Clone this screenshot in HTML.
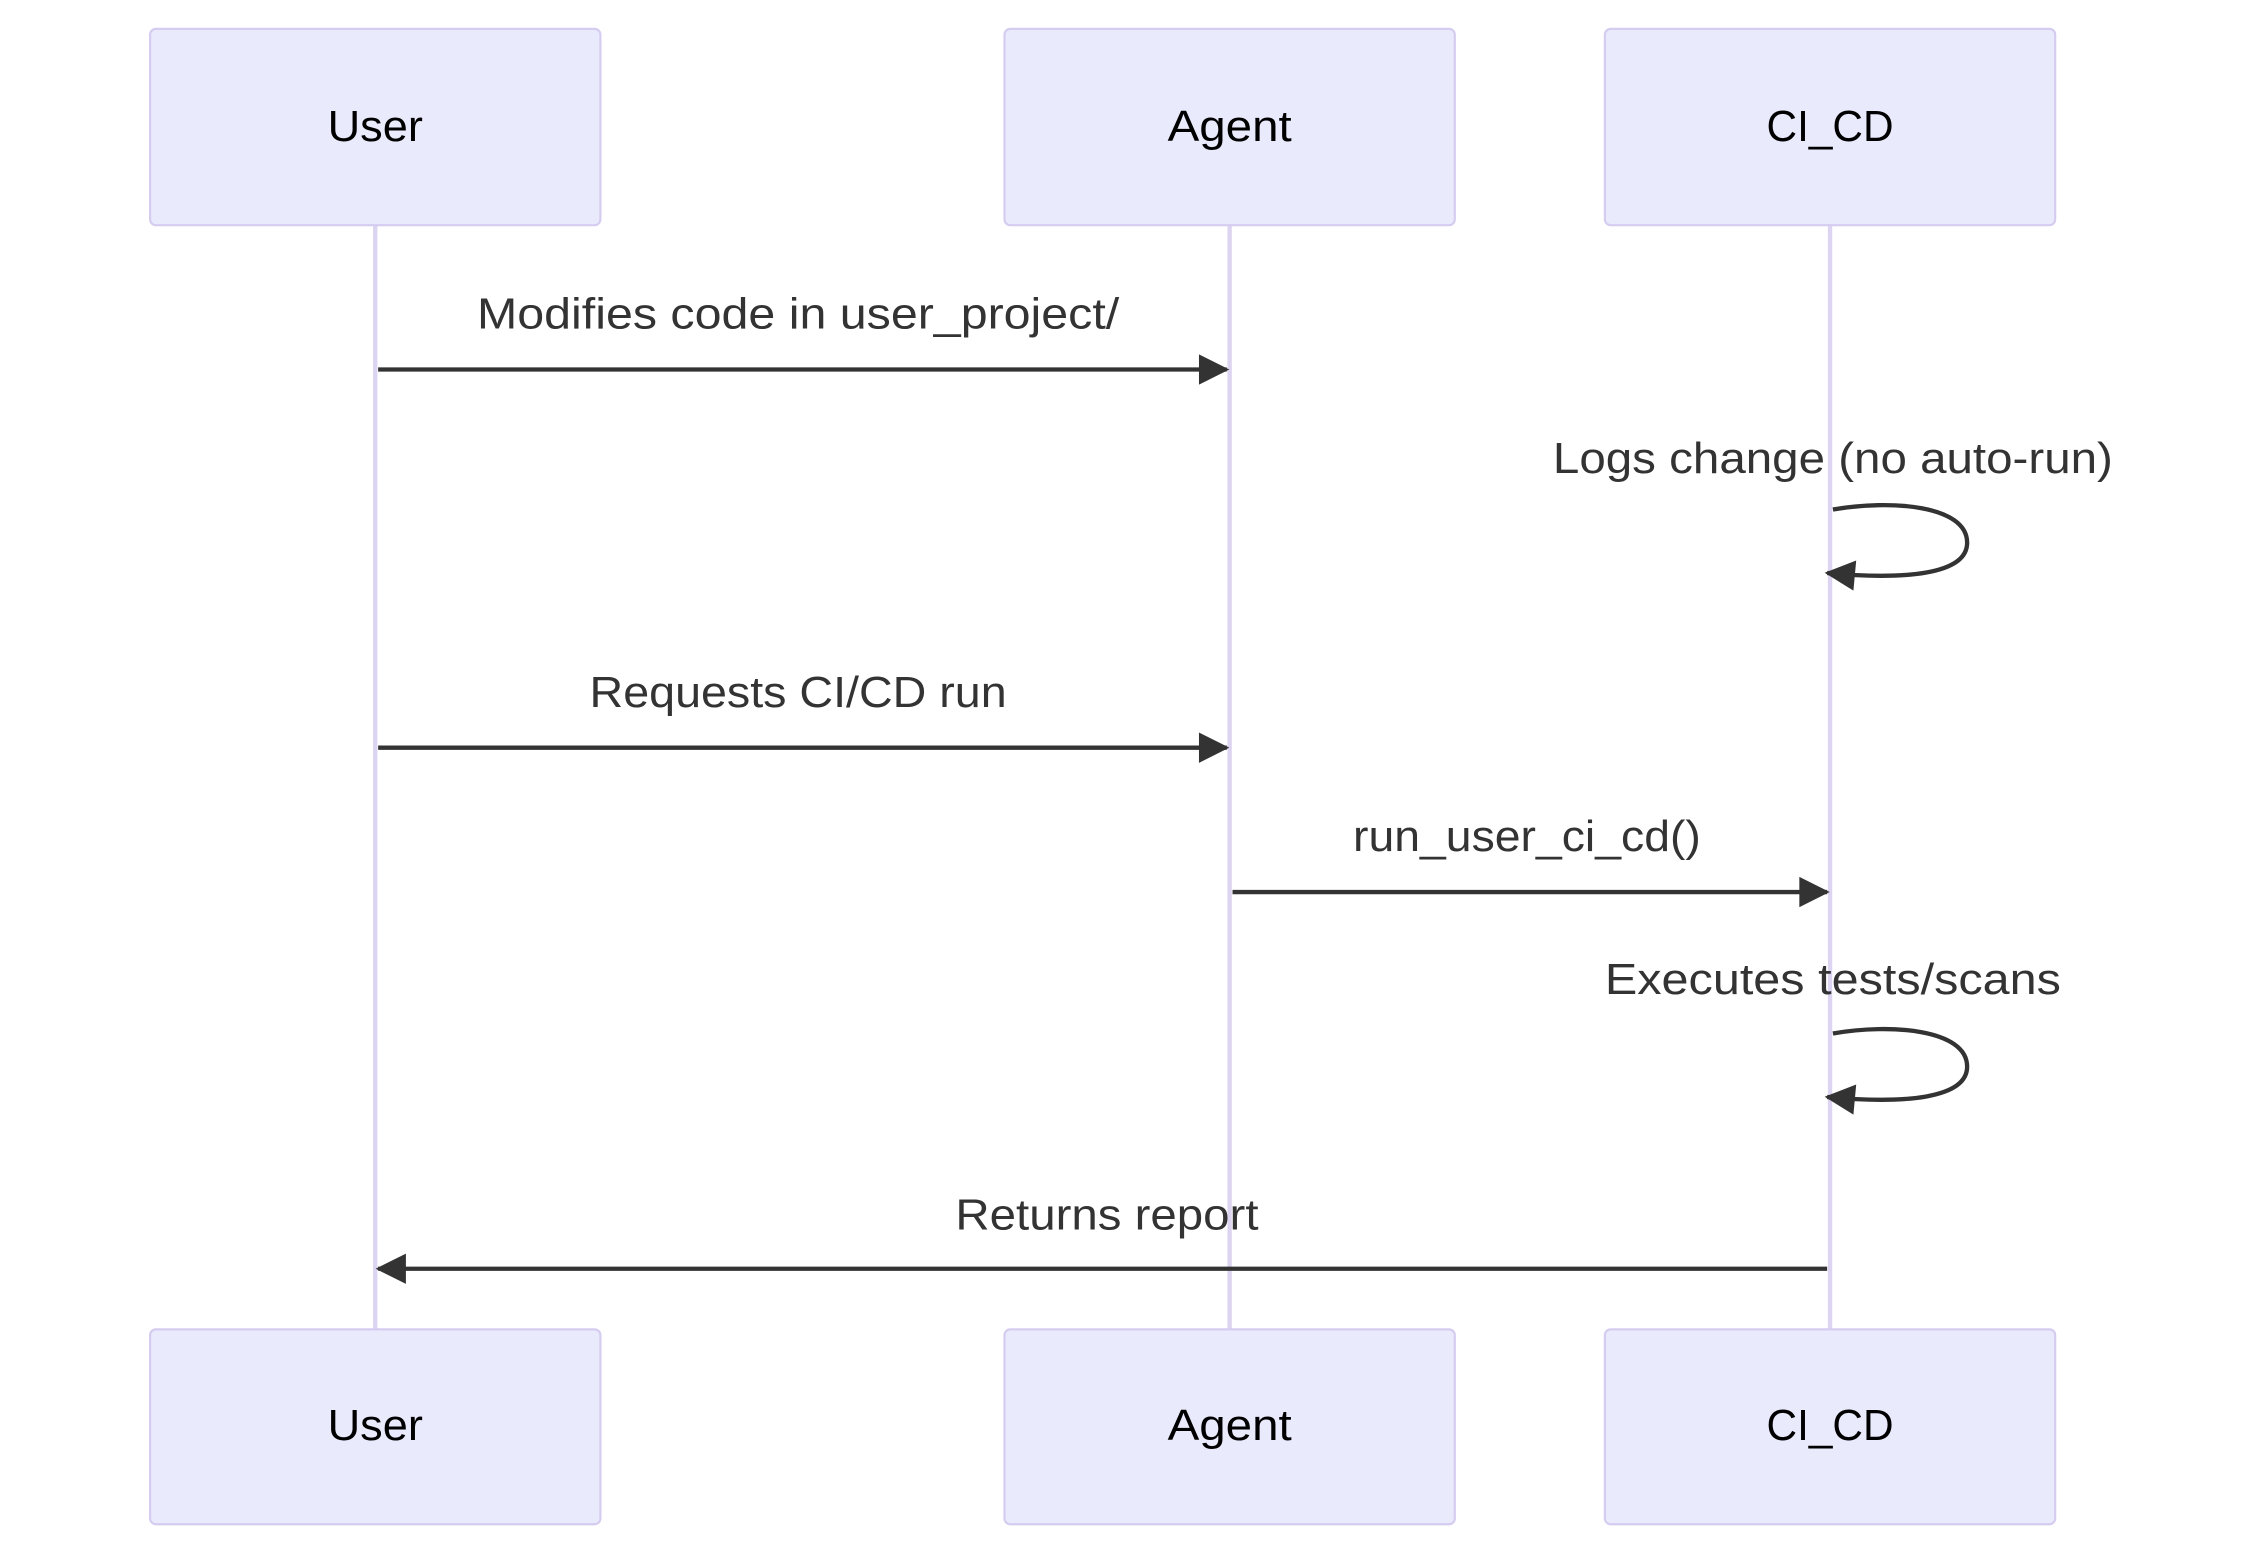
<!DOCTYPE html>
<html><head><meta charset="utf-8"><style>html,body{margin:0;padding:0;background:#fff;}svg{display:block}</style></head>
<body>
<svg width="2263" height="1557" viewBox="0 0 1568 1078.7" preserveAspectRatio="none" xmlns="http://www.w3.org/2000/svg" font-family="Liberation Sans, sans-serif">
<defs>
<marker id="a" viewBox="0 0 12 12" refX="11" refY="6" markerWidth="25" markerHeight="21" markerUnits="userSpaceOnUse" orient="auto"><path d="M0,0 L12,6 L0,12 z" fill="#333"/></marker>
</defs>
<g stroke="#dcd4f0" stroke-width="3">
<line x1="260" y1="156" x2="260" y2="921"/>
<line x1="852" y1="156" x2="852" y2="921"/>
<line x1="1268" y1="156" x2="1268" y2="921"/>
</g>
<g fill="#eaeafd" stroke="#d5ccf0" stroke-width="1.5">
<rect x="104" y="20" width="312" height="136" rx="4"/>
<rect x="696" y="20" width="312" height="136" rx="4"/>
<rect x="1112" y="20" width="312" height="136" rx="4"/>
<rect x="104" y="921" width="312" height="135" rx="4"/>
<rect x="696" y="921" width="312" height="135" rx="4"/>
<rect x="1112" y="921" width="312" height="135" rx="4"/>
</g>
<g font-size="30" fill="#000" text-anchor="middle" dominant-baseline="central">
<text x="260" y="88" textLength="66" lengthAdjust="spacingAndGlyphs">User</text><text x="852" y="88" textLength="86" lengthAdjust="spacingAndGlyphs">Agent</text><text x="1268" y="88" textLength="88" lengthAdjust="spacingAndGlyphs">CI_CD</text>
<text x="260" y="988" textLength="66" lengthAdjust="spacingAndGlyphs">User</text><text x="852" y="988" textLength="86" lengthAdjust="spacingAndGlyphs">Agent</text><text x="1268" y="988" textLength="88" lengthAdjust="spacingAndGlyphs">CI_CD</text>
</g>
<g stroke="#333" stroke-width="3" fill="none" marker-end="url(#a)">
<line x1="262" y1="256" x2="850" y2="256"/>
<path d="M1270,353 C1310,346 1363,350 1363,376 C1363,398 1320,402 1266,397"/>
<line x1="262" y1="518" x2="850" y2="518"/>
<line x1="854" y1="618" x2="1266" y2="618"/>
<path d="M1270,716 C1310,709 1363,713 1363,739 C1363,761 1320,765 1266,760"/>
<line x1="1266" y1="879" x2="262" y2="879"/>
</g>
<g font-size="30" fill="#333" text-anchor="middle" dominant-baseline="central">
<text x="553" y="218" textLength="445" lengthAdjust="spacingAndGlyphs">Modifies code in user_project/</text>
<text x="1270" y="318" textLength="388" lengthAdjust="spacingAndGlyphs">Logs change (no auto-run)</text>
<text x="553" y="480" textLength="289" lengthAdjust="spacingAndGlyphs">Requests CI/CD run</text>
<text x="1058" y="580" textLength="241" lengthAdjust="spacingAndGlyphs">run_user_ci_cd()</text>
<text x="1270" y="679" textLength="316" lengthAdjust="spacingAndGlyphs">Executes tests/scans</text>
<text x="767" y="842" textLength="210" lengthAdjust="spacingAndGlyphs">Returns report</text>
</g>
</svg>
</body></html>
